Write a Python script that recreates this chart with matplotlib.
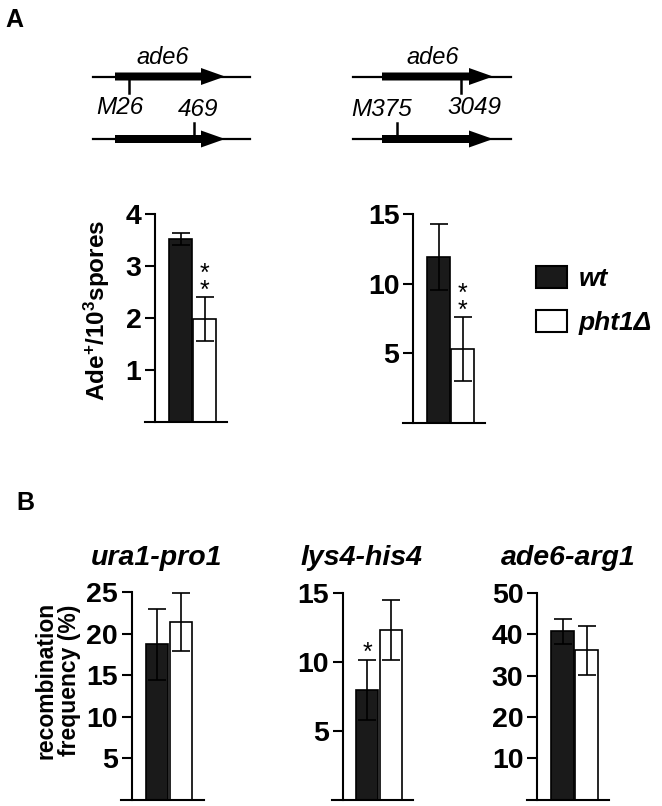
import matplotlib
matplotlib.use("Agg")
import matplotlib.pyplot as plt
from matplotlib.patches import Patch

plt.rcParams['font.family'] = ['Liberation Sans', 'DejaVu Sans']
plt.rcParams['mathtext.fontset'] = 'custom'
plt.rcParams['mathtext.rm'] = 'Liberation Sans:bold'
plt.rcParams['mathtext.bf'] = 'Liberation Sans:bold'
plt.rcParams['mathtext.it'] = 'Liberation Sans:bold:italic'

W, H = 662, 806

# ---- data: panel A (Ade+ per 10^3 spores) ----
a_wt = [3.52, 11.9]
a_wt_err = [0.12, 2.4]
a_pht = [1.98, 5.3]
a_pht_err = [0.42, 2.3]
a_ymax = [4, 15]
a_ticks = [[1, 2, 3, 4], [5, 10, 15]]
a_stars = ['*\n*', '*\n*']          # on pht1 bars

# ---- data: panel B (recombination frequency %) ----
b_titles = ['ura1-pro1', 'lys4-his4', 'ade6-arg1']
b_wt = [18.7, 7.95, 40.7]
b_wt_err = [4.3, 2.2, 3.0]
b_pht = [21.4, 12.3, 36.1]
b_pht_err = [3.5, 2.2, 6.0]
b_ymax = [25, 15, 50]
b_ticks = [[5, 10, 15, 20, 25], [5, 10, 15], [10, 20, 30, 40, 50]]
b_stars = ['', '*', '']             # on wt bars

legend_labels = ['wt', 'pht1Δ']
bar_colors = ['#1a1a1a', 'white']

fig = plt.figure(figsize=(W / 100, H / 100), dpi=100)

def px_axes(left, top, bottom, unit=24.0):
    # xlim runs from -1.5 to 1.95 bar units
    width = 3.45 * unit
    return fig.add_axes([left / W, 1 - bottom / H, width / W, (bottom - top) / H])

def draw_bars(ax, wt, wt_err, pht, pht_err, ymax, ticks, star_wt='', star_pht=''):
    ax.bar([0, 1], [wt, pht], width=0.93, color=bar_colors, edgecolor='black',
           linewidth=1.2, zorder=2)
    ax.errorbar([0, 1], [wt, pht], yerr=[wt_err, pht_err], fmt='none', ecolor='black',
                elinewidth=1.2, capsize=6.5, capthick=1.2, zorder=3)
    ax.set_xlim(-1.5, 1.95)
    ax.set_ylim(0, ymax)
    ax.set_yticks(ticks)
    ax.set_xticks([])
    ax.spines['top'].set_visible(False)
    ax.spines['right'].set_visible(False)
    ax.spines['left'].set_position(('data', -1.05))
    for s in ['left', 'bottom']:
        ax.spines[s].set_linewidth(1.5)
    ax.tick_params(axis='y', length=7, width=1.5, pad=3, labelsize=20.5)
    for lab in ax.get_yticklabels():
        lab.set_fontweight('bold')
    for x, top, s in [(0, wt + wt_err, star_wt), (1, pht + pht_err, star_pht)]:
        if s:
            ax.annotate(s, (x, top), xytext=(0, -4), textcoords='offset points',
                        ha='center', va='bottom', fontsize=18, linespacing=0.62)

# ---- panel A bar charts ----
a_pos = [(144.5, 214, 422), (402.5, 214, 422.5)]
for i, (l, t, b) in enumerate(a_pos):
    ax = px_axes(l, t, b)
    draw_bars(ax, a_wt[i], a_wt_err[i], a_pht[i], a_pht_err[i], a_ymax[i], a_ticks[i],
              star_pht=a_stars[i])

fig.text(97 / W, 1 - 310 / H, 'Ade$^{+}$/10$^{3}$spores', rotation=90, ha='center',
         va='center', fontsize=17.5, fontweight='bold')

# ---- panel B bar charts ----
b_pos = [(121, 592, 800), (332, 593, 799.5), (526.5, 593, 799.6)]
b_title_x = [157, 362, 568]
for i, (l, t, b) in enumerate(b_pos):
    ax = px_axes(l, t, b, unit=24 if i != 1 else 23.5)
    draw_bars(ax, b_wt[i], b_wt_err[i], b_pht[i], b_pht_err[i], b_ymax[i], b_ticks[i],
              star_wt=b_stars[i])
    fig.text(b_title_x[i] / W, 1 - 558 / H, b_titles[i], ha='center', va='center',
             fontsize=20.5, fontweight='bold', fontstyle='italic')

fig.text(58 / W, 1 - 680 / H, 'recombination\nfrequency (%)', rotation=90, ha='center',
         va='center', fontsize=16.5, fontweight='bold', linespacing=1.0)

# ---- legend ----
handles = [Patch(facecolor=c, edgecolor='black', linewidth=1.5) for c in bar_colors]
fig.legend(handles, legend_labels, loc='upper left',
           bbox_to_anchor=(536 / W, 1 - 266 / H), frameon=False, borderpad=0,
           borderaxespad=0, handlelength=1.17, handleheight=0.91,
           handletextpad=0.45, labelspacing=0.72,
           prop={'size': 19, 'weight': 'bold', 'style': 'italic'})

# ---- panel labels ----
fig.text(14 / W, 1 - 20 / H, 'A', ha='center', va='center', fontsize=18, fontweight='bold')
fig.text(25 / W, 1 - 503 / H, 'B', ha='center', va='center', fontsize=18, fontweight='bold')

# ---- ade6 gene maps (schematic) ----
ax0 = fig.add_axes([0, 0, 1, 1], zorder=-1)
ax0.set_xlim(0, W)
ax0.set_ylim(H, 0)
ax0.axis('off')

def gene(x0, x1, body, head, tip, y):
    ax0.plot([x0, x1], [y, y], color='black', lw=1.6)
    ax0.arrow(body, y, tip - body, 0, width=8, head_width=17, head_length=tip - head,
              length_includes_head=True, fc='black', ec='black', lw=0)

maps = [
    # line start/end, body start, head start, tip, top site x, top label, label x,
    # bottom site x, bottom label, label x, gene label x
    (93, 250, 115, 201, 225, 129, 'M26', 120, 194, '469', 198, 163),
    (353, 511, 382, 469, 493, 461, '3049', 474, 397, 'M375', 382, 433),
]
for x0, x1, body, head, tip, xt, lt, ltx, xb, lb, lbx, xg in maps:
    gene(x0, x1, body, head, tip, 76.5)
    gene(x0, x1, body, head, tip, 139)
    ax0.plot([xt, xt], [76.5, 93], color='black', lw=1.8)
    ax0.plot([xb, xb], [123, 139], color='black', lw=1.8)
    ax0.text(xg, 57, 'ade6', ha='center', va='center', fontsize=17, fontstyle='italic')
    ax0.text(ltx, 108, lt, ha='center', va='center', fontsize=17.5, fontstyle='italic')
    ax0.text(lbx, 109, lb, ha='center', va='center', fontsize=17.5, fontstyle='italic')

fig.savefig('out.png', dpi=100)
